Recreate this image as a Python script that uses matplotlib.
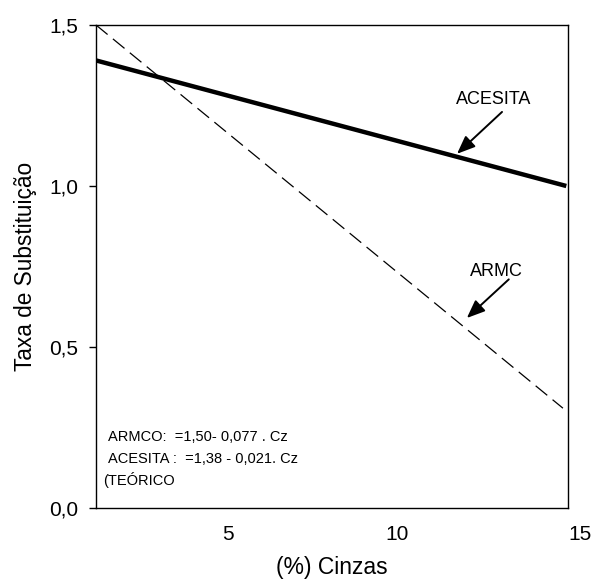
import matplotlib
matplotlib.use("Agg")
import matplotlib.pyplot as plt
from matplotlib.transforms import ScaledTranslation

plt.rcParams['font.family'] = ['Liberation Sans', 'DejaVu Sans']

acesita_x = [1.1, 15.0]
acesita_y = [1.39, 1.00]
armco_x = [1.1, 14.9]
armco_y = [1.50, 0.31]
xticks = [5, 10, 15]
xticklabels = ["5", "10", "15"]
yticks = [0.0, 0.5, 1.0, 1.5]
yticklabels = ["0,0", "0,5", "1,0", "1,5"]
eq_lines = ["ARMCO:  =1,50- 0,077 . Cz", "ACESITA :  =1,38 - 0,021. Cz", "(TEÓRICO"]

fig = plt.figure(figsize=(5.96, 5.81), dpi=100)
ax = fig.add_axes([96/596, 1-508/581, (568-96)/596, (508-25)/581])

ax.plot(acesita_x, acesita_y, color='black', lw=3.2, solid_capstyle='butt')
ax.plot(armco_x, armco_y, color='black', lw=0.9, dashes=(12, 5.5))

ax.set_xlim(1.1, 15.05)
ax.set_ylim(0, 1.5)
ax.set_xticks(xticks)
ax.set_xticklabels(xticklabels, fontsize=15)
ax.set_yticks(yticks)
ax.set_yticklabels(yticklabels, fontsize=15)
ax.tick_params(axis='x', length=0, pad=12)
ax.tick_params(axis='y', direction='out', length=5, width=1, pad=8)
for s in ax.spines.values():
    s.set_linewidth(1.0)
# last x tick label sits slightly right in the reference
lbl = ax.get_xticklabels()[-1]
lbl.set_transform(lbl.get_transform() + ScaledTranslation(14/100, 0, fig.dpi_scale_trans))

ax.set_xlabel("(%) Cinzas", fontsize=16.5, labelpad=9)
ax.set_ylabel("Taxa de Substituição", fontsize=16.3, labelpad=8.5)

arrow = dict(arrowstyle='-|>,head_length=1.1,head_width=0.45', color='black', lw=1.4,
             shrinkA=0, shrinkB=0)
ax.text(12.85, 1.27, "ACESITA", fontsize=13, ha='center', va='center')
ax.annotate("", xy=(11.77, 1.10), xytext=(13.1, 1.23), arrowprops=arrow)
ax.text(12.92, 0.735, "ARMC", fontsize=13, ha='center', va='center')
ax.annotate("", xy=(12.06, 0.59), xytext=(13.3, 0.71), arrowprops=arrow)

ax.text(1.45, 0.208, eq_lines[0], fontsize=10.5, ha='left', va='baseline')
ax.text(1.45, 0.140, eq_lines[1], fontsize=10.5, ha='left', va='baseline')
ax.text(1.3, 0.071, eq_lines[2], fontsize=10.5, ha='left', va='baseline')

fig.savefig("out.png", dpi=100)
